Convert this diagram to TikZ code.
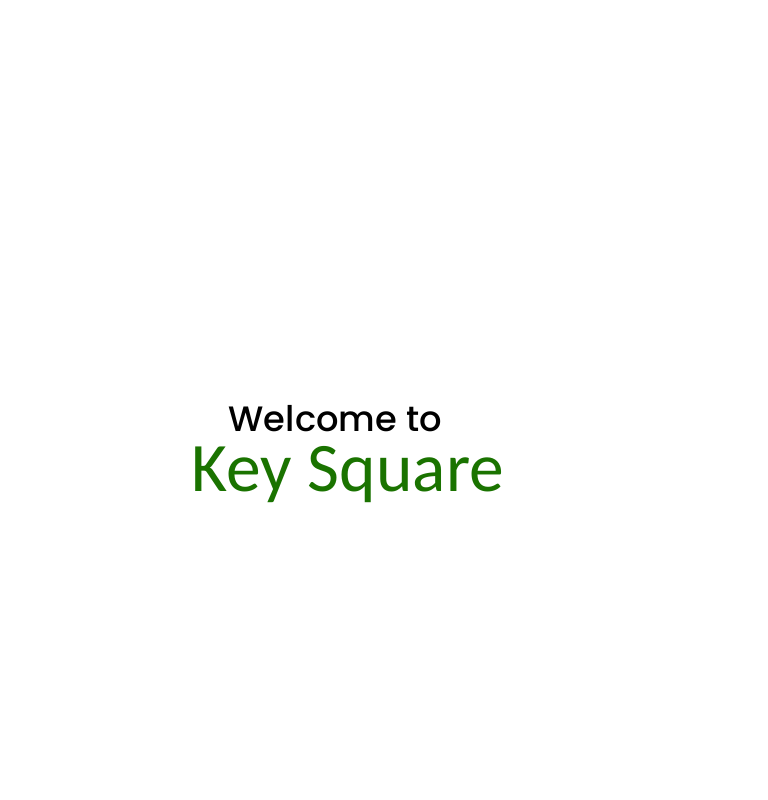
\documentclass[tikz,border=0pt]{standalone}
\usepackage{fontspec}
\newfontfamily\welcomefont{Poppins Medium}
\newfontfamily\titlefont{Carlito}
\definecolor{ksgreen}{RGB}{26,115,0}
\begin{document}
\begin{tikzpicture}[x=0.01cm,y=0.01cm,
  welcome/.style={anchor=base west,inner sep=0pt,font=\welcomefont,text=black},
  title/.style={anchor=base west,inner sep=0pt,font=\titlefont,text=ksgreen}]
\useasboundingbox[fill=white] (0,0) rectangle (768,800);
\node[welcome] (w) at (228,368) {\resizebox{2.13cm}{!}{Welcome to}};
\node[title] (k) at (191,308) {\resizebox{3.12cm}{!}{Key Square}};
\end{tikzpicture}
\end{document}
